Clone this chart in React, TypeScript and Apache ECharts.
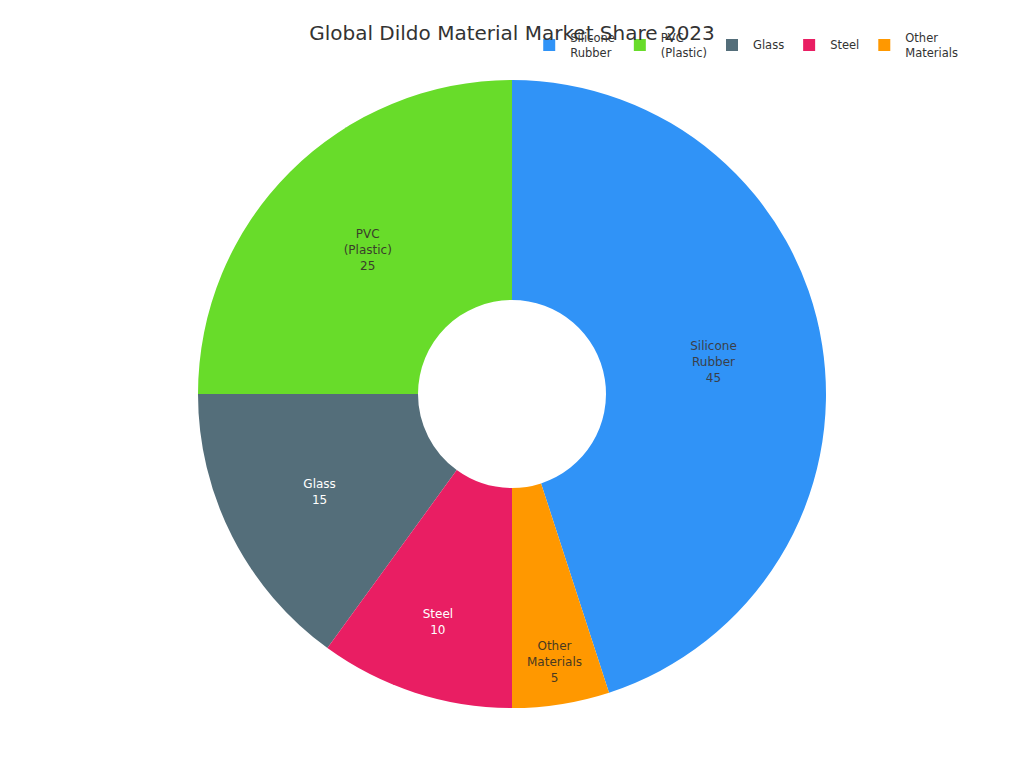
import React, { useEffect, useRef } from 'react';
import * as echarts from 'echarts';

const materials = ['Silicone\nRubber', 'PVC\n(Plastic)', 'Glass', 'Steel', 'Other\nMaterials'];
const shares = [45, 25, 15, 10, 5];
const colors = ['#3093F7', '#68DC2A', '#546E7A', '#E91E63', '#FF9800'];
const labelColors = ['#3a3f4a', '#3a3f2a', '#ffffff', '#ffffff', '#4a3a20'];

const CX = 512;
const CY = 394;
const R0 = 94;
const R1 = 314;
const START = -72;

// put each label at the centre of the largest circle that fits in its slice
const labelPos = (idx: number) => {
  const total = shares.reduce((a, b) => a + b, 0);
  const before = shares.slice(0, idx).reduce((a, b) => a + b, 0);
  const mid = ((START + ((before + shares[idx] / 2) / total) * 360) * Math.PI) / 180;
  const half = ((shares[idx] / total) * Math.PI);
  const hole = R0 / R1;
  const s = Math.sin(Math.min(half, Math.PI / 2));
  const inscribed = Math.min(s / (1 + s), (1 - hole) / 2);
  const r = R1 * (1 - inscribed);
  return { x: CX + r * Math.cos(mid), y: CY - r * Math.sin(mid) };
};

const App: React.FC = () => {
  const chartRef = useRef<HTMLDivElement>(null);

  useEffect(() => {
    if (!chartRef.current) return;
    const myChart = echarts.init(chartRef.current, undefined, { renderer: 'svg' });

    const option = {
      animation: false,
      color: colors,
      textStyle: { fontFamily: 'DejaVu Sans' },
      title: {
        text: 'Global Dildo Material Market Share 2023',
        left: 'center',
        top: 18,
        textStyle: { fontSize: 20, fontWeight: 'normal', color: '#333' },
      },
      legend: {
        top: 25,
        right: 61,
        icon: 'rect',
        itemWidth: 12,
        itemHeight: 12,
        itemGap: 19,
        textStyle: { fontSize: 11.5, color: '#333', padding: [0, 0, 0, 10], lineHeight: 15 },
        data: materials,
      },
      series: [
        {
          type: 'pie',
          center: [CX, CY],
          radius: [R0, R1],
          clockwise: false,
          startAngle: START,
          label: {
            position: 'inside',
            formatter: '{b}\n{c}',
            fontSize: 12,
            lineHeight: 16,
          },
          labelLayout: (params: any) => labelPos(params.dataIndex),
          data: materials.map((name, i) => ({
            name,
            value: shares[i],
            label: { color: labelColors[i] },
          })),
        },
      ],
    };

    myChart.setOption(option);

    const resizeChart = () => {
      myChart.resize();
    };
    window.addEventListener('resize', resizeChart);

    return () => {
      window.removeEventListener('resize', resizeChart);
      myChart.dispose();
    };
  }, []);

  return (
    <div
      ref={chartRef}
      style={{ position: 'fixed', left: 0, top: 0, width: '1024px', height: '768px', background: '#fff' }}
    ></div>
  );
};

export default App;
